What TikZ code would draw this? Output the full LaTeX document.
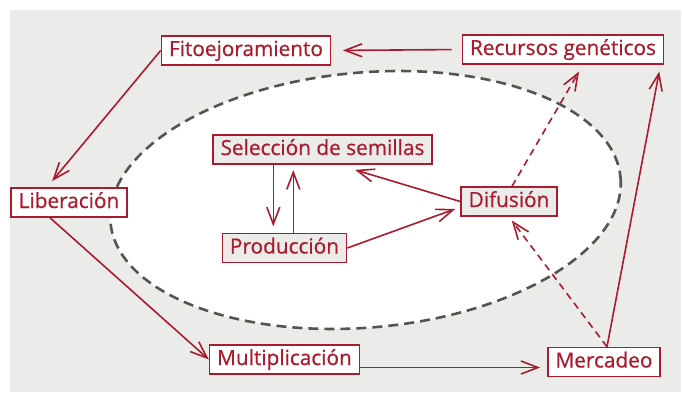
\documentclass[tikz,border=0pt]{standalone}
\usepackage{fontspec}
\setmainfont{Open Sans}
\newfontfamily\stagefont{Open Sans}[FakeBold=0.6]
\usepackage{xcolor}
\usepackage{tikz}
\usetikzlibrary{calc}
\usetikzlibrary{arrows.meta}
\definecolor{cropred}{RGB}{170,27,46}
\definecolor{panelgray}{RGB}{235,235,233}
\definecolor{rimgray}{RGB}{85,85,80}

\begin{document}
\begin{tikzpicture}[x=0.5pt,y=-0.5pt,
		stage/.style={draw=cropred,line width=0.75pt,text=cropred,fill=white,
			font=\stagefont\fontsize{10.4}{12}\selectfont,inner xsep=3.8pt,inner ysep=0pt,
			text height=7.8pt,text depth=2.3pt,minimum height=14.5pt},
		seedstage/.style={stage,fill=panelgray},
		flow/.style={draw=cropred,line width=0.8pt,-{Straight Barb[length=8.5pt,width=6.5pt]}},
		hint/.style={flow,dash pattern=on 3.5pt off 2.5pt}]
					\useasboundingbox (0,0) rectangle (682,396);
					\fill[panelgray] (10,10) rectangle (681,392);
					\draw[rimgray,line width=1.3pt,dash pattern=on 5pt off 3pt,fill=white,rotate around={5:(365.5,200)}] (365.5,200) ellipse [x radius=256,y radius=127.5];
					\node[stage] (fito) at (246,50.5) {Fitoejoramiento};
					\node[stage] (rec) at (563,49.5) {Recursos genéticos};
					\node[stage] (lib) at (69,202.5) {Liberación};
					\node[seedstage] (sel) at (322.5,149.5) {Selección de semillas};
					\node[seedstage] (prod) at (284.5,248) {Producción};
					\node[seedstage] (dif) at (509,201.5) {Difusión};
					\node[stage] (mult) at (284.5,359.5) {Multiplicación};
					\node[stage] (merc) at (604,362) {Mercadeo};
					\draw[flow,shorten <=5pt,shorten >=5.8pt] (rec.west) -- (fito.east);
					\draw[flow,shorten >=4pt] (fito.west) -- ([xshift=-11pt]lib.north);
					\draw[flow] ([xshift=-9.5pt]lib.south) -- (mult.west);
					\draw[flow,shorten >=3.5pt] ([yshift=-4pt]mult.east) -- ([yshift=-4pt]mult.east -| merc.west);
					\draw[flow,shorten >=3.4pt] ([xshift=1.5pt]merc.north) -- ([xshift=-1.9pt]rec.south east);
					\draw[hint,shorten >=2.3pt] ([xshift=1.5pt]merc.north) -- (dif.south);
					\draw[hint,shorten >=3.9pt] ([xshift=1.5pt]dif.north) -- ([xshift=10pt]rec.south);
					\draw[flow,shorten >=8.9pt] (dif.west) -- ([xshift=7.75pt]sel.south);
					\draw[flow,shorten >=2.7pt] (prod.east) -- ([yshift=-2.8pt]dif.west);
					\draw[flow,shorten >=3.2pt] ([xshift=-24.6pt]sel.south) -- ([xshift=-24.6pt]sel.south |- prod.north);
					\draw[flow,shorten >=2.7pt] ([xshift=4.4pt]prod.north) -- ([xshift=4.4pt]prod.north |- sel.south);
				\end{tikzpicture}
\end{document}
